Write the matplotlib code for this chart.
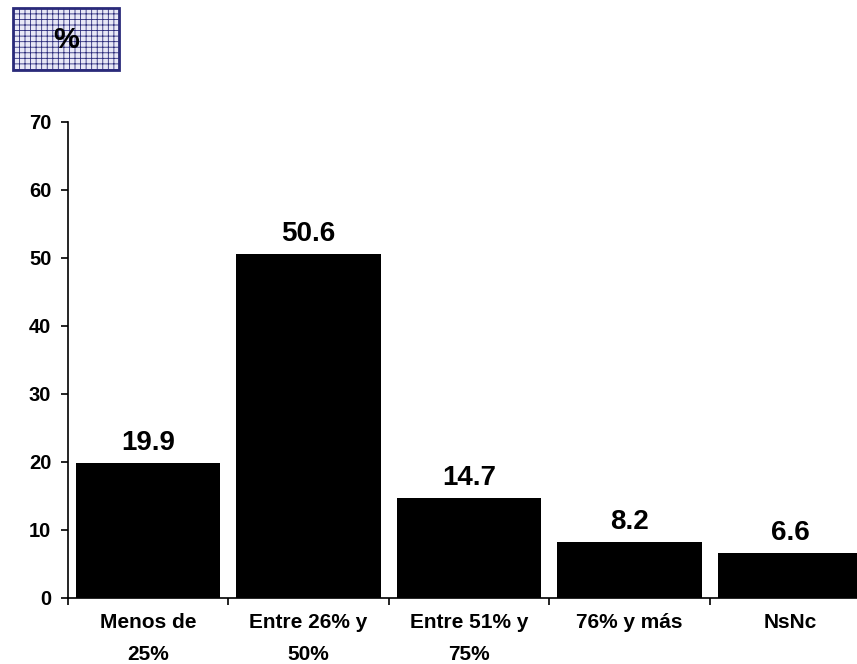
import matplotlib.pyplot as plt
from matplotlib.patches import Rectangle

categories = ["Menos de\n25%", "Entre 26% y\n50%", "Entre 51% y\n75%", "76% y más", "NsNc"]
values = [19.9, 50.6, 14.7, 8.2, 6.6]
yticks = [0, 10, 20, 30, 40, 50, 60, 70]

plt.rcParams['font.family'] = ['Liberation Sans', 'DejaVu Sans']
plt.rcParams['font.weight'] = 'bold'
plt.rcParams['hatch.color'] = '#bcbce0'
plt.rcParams['hatch.linewidth'] = 0.6

fig = plt.figure(figsize=(8.57, 6.64), dpi=100)
ax = fig.add_axes([0.0793, 0.0994, 0.936, 0.7169])

x = range(len(categories))
ax.bar(x, values, width=0.9, color='black')
for xi, v in zip(x, values):
    ax.text(xi, v + 1.9, f"{v:.1f}", ha='center', va='baseline', fontsize=20, fontweight='bold')

ax.set_xlim(-0.5, len(categories) - 0.5)
ax.set_ylim(0, 70)
ax.set_yticks(yticks)
ax.set_xticks([i - 0.5 for i in range(len(categories) + 1)])
ax.set_xticklabels([])
ax.set_xticks(list(x), minor=True)
ax.set_xticklabels(categories, minor=True, fontsize=15, fontweight='bold', linespacing=1.85)
ax.tick_params(axis='x', which='minor', length=0, pad=11)
ax.tick_params(axis='x', which='major', length=5, direction='out', width=1.2)
ax.tick_params(axis='y', length=5, width=1.2, labelsize=14.5, pad=7)
for lbl in ax.get_yticklabels():
    lbl.set_fontweight('bold')
ax.spines['top'].set_visible(False)
ax.spines['right'].set_visible(False)
ax.spines['left'].set_linewidth(1.2)
ax.spines['bottom'].set_linewidth(1.2)

# "%" box in the top left corner
box = Rectangle((13 / 857, 1 - 70 / 664), 106 / 857, 62 / 664, transform=fig.transFigure,
                facecolor='#e8e8f6', edgecolor='#2a2a7a', linewidth=2, hatch='+++')
fig.patches.append(box)
fig.text(66 / 857, 1 - 40 / 664, "%", ha='center', va='center', fontsize=21, fontweight='bold')

fig.savefig("out.png", dpi=100)
